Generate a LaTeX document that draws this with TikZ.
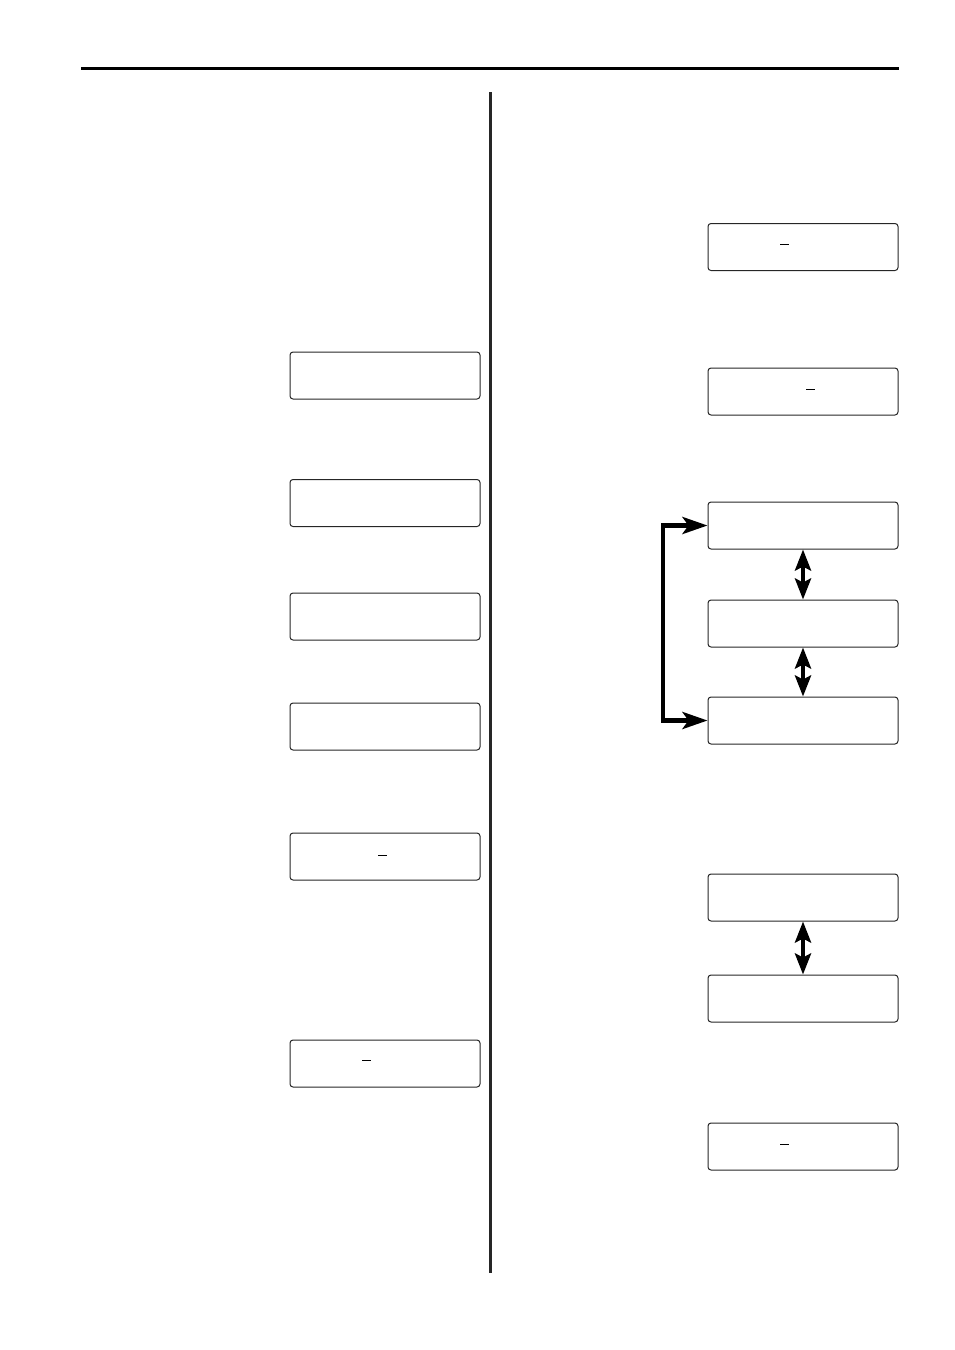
\documentclass[tikz,border=0pt]{standalone}
\usetikzlibrary{arrows.meta}
\begin{document}
\begin{tikzpicture}[x=1pt,y=-1pt,
  lcd/.style={draw=black!85,line width=1pt,rounded corners=3pt,minimum width=190pt,minimum height=47pt,inner sep=0pt},
  cursor/.style={line width=0.8pt,black},
  bigarrow/.style={line width=4.5pt,-{Stealth[length=25pt 0,width=17pt 0,inset=6pt]}},
  dblarrow/.style={line width=4.5pt,{Stealth[length=21pt 0,width=16pt 0,inset=4pt]}-{Stealth[length=21pt 0,width=16pt 0,inset=4pt]}}]
\useasboundingbox (0,0) rectangle (954,1350);
% header rule and column divider
\draw[line width=3pt] (81,68) -- (899,68);
\draw[line width=3pt,black!85] (490,92) -- (490,1273);
% left column
\node[lcd] (L1) at (385,375.5) {};
\node[lcd] (L2) at (385,503) {};
\node[lcd] (L3) at (385,616.5) {};
\node[lcd] (L4) at (385,726.5) {};
\node[lcd] (L5) at (385,856.5) {};
\node[lcd] (L6) at (385,1063.5) {};
\draw[cursor] (378,855) -- (387,855);
\draw[cursor] (362,1060) -- (371,1060);
% right column
\node[lcd] (R1) at (803,247) {};
\node[lcd] (R2) at (803,391.5) {};
\node[lcd] (R3) at (803,525.5) {};
\node[lcd] (R4) at (803,623.5) {};
\node[lcd] (R5) at (803,720.5) {};
\node[lcd] (R6) at (803,897.5) {};
\node[lcd] (R7) at (803,998.5) {};
\node[lcd] (R8) at (803,1146.5) {};
\draw[cursor] (780,244) -- (789,244);
\draw[cursor] (806,389) -- (815,389);
\draw[cursor] (780,1144) -- (789,1144);
% connectors
\coordinate (bend) at (663,622);
\draw[bigarrow] (bend) |- (R3.west);
\draw[bigarrow] (bend) |- (R5.west);
\draw[dblarrow] (R3.south) -- (R4.north);
\draw[dblarrow] (R4.south) -- (R5.north);
\draw[dblarrow] (R6.south) -- (R7.north);
\end{tikzpicture}
\end{document}
